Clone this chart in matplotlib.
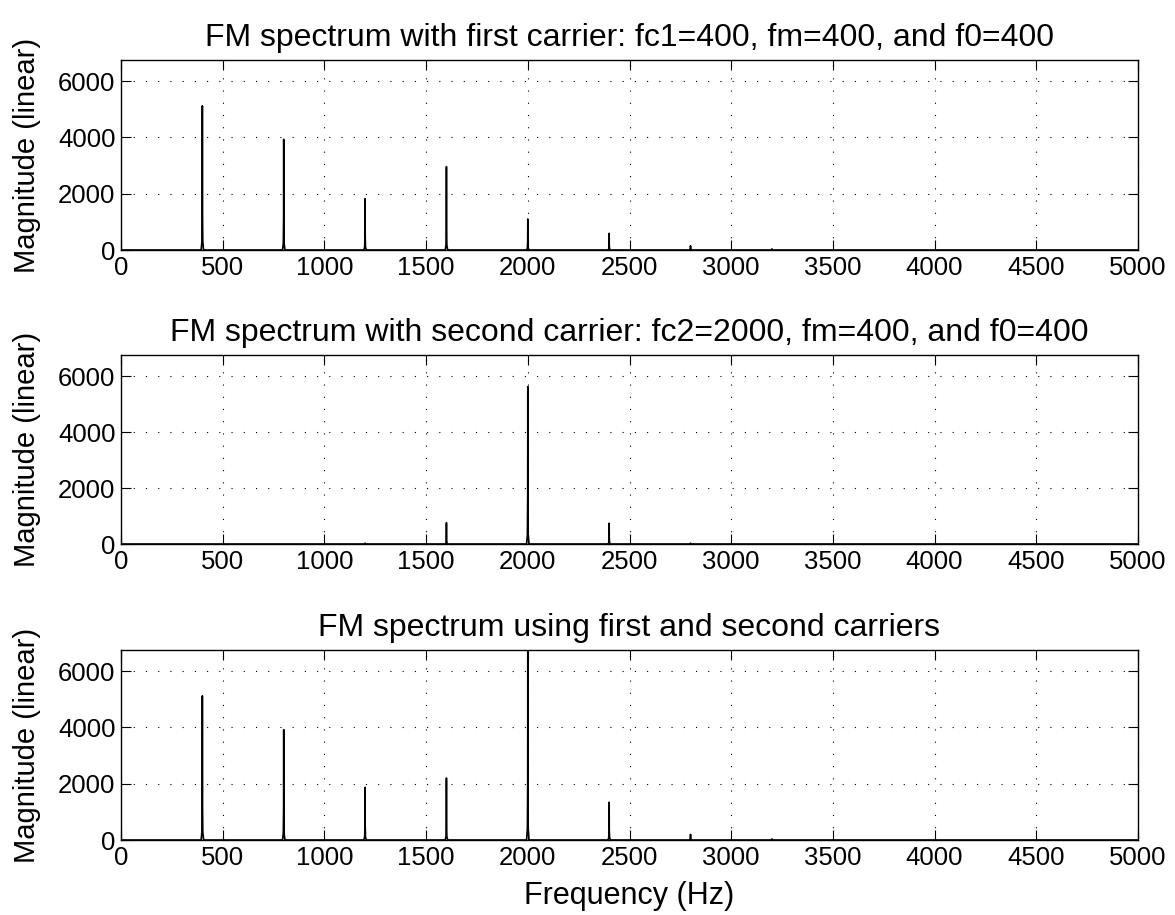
import numpy as np
import matplotlib
matplotlib.use('Agg')
import matplotlib.pyplot as plt

plt.rcParams['font.family'] = ['Liberation Sans', 'DejaVu Sans']

# peak frequencies (Hz) and magnitudes
freqs = [400, 800, 1200, 1600, 2000, 2400, 2800, 3200]
mag_fc1 = [5120, 3930, 1820, 2960, 1100, 590, 150, 40]
mag_fc2 = [0, 0, 30, 760, 5620, 740, 30, 0]
mag_both = [5120, 3920, 1870, 2200, 6750, 1340, 200, 40]

titles = [
    'FM spectrum with first carrier: fc1=400, fm=400, and f0=400',
    'FM spectrum with second carrier: fc2=2000, fm=400, and f0=400',
    'FM spectrum using first and second carriers',
]
series = [mag_fc1, mag_fc2, mag_both]
ymax = max(mag_both)


def spectrum_line(freqs, mags):
    # narrow spikes with a small base, like an FFT of a windowed tone
    xs, ys = [0.0], [0.0]
    for f, m in zip(freqs, mags):
        if m <= 0:
            continue
        xs += [f - 6, f - 2, f - 0.5, f, f + 0.5, f + 2, f + 6]
        ys += [0, 0.06 * m, 0.3 * m, m, 0.3 * m, 0.06 * m, 0]
    xs.append(5000.0)
    ys.append(0.0)
    return np.array(xs), np.array(ys)


fig = plt.figure(figsize=(11.75, 9.15), dpi=100)
W, H = 1175, 915
boxes = [(121, 60, 1138, 250), (121, 355, 1138, 544), (121, 650, 1138, 840)]

for (l, t, r, b), mags, title in zip(boxes, series, titles):
    ax = fig.add_axes([l / W, 1 - b / H, (r - l) / W, (b - t) / H])
    x, y = spectrum_line(freqs, mags)
    ax.plot(x, y, color='black', lw=1.2)
    ax.set_xlim(0, 5000)
    ax.set_ylim(0, ymax)
    ax.set_xticks(np.arange(0, 5001, 500))
    ax.set_yticks([0, 2000, 4000, 6000])
    ax.grid(True, color='black', linestyle=(0, (1, 10)), lw=0.8)
    ax.tick_params(direction='in', length=7, labelsize=18.5, top=True, right=True, pad=4)
    for s in ax.spines.values():
        s.set_linewidth(1.0)
    ax.set_title(title, fontsize=23, pad=10)
    ax.set_ylabel('Magnitude (linear)', fontsize=21, labelpad=12)

ax.set_xlabel('Frequency (Hz)', fontsize=22, labelpad=8)

fig.savefig('out.png', dpi=100)
